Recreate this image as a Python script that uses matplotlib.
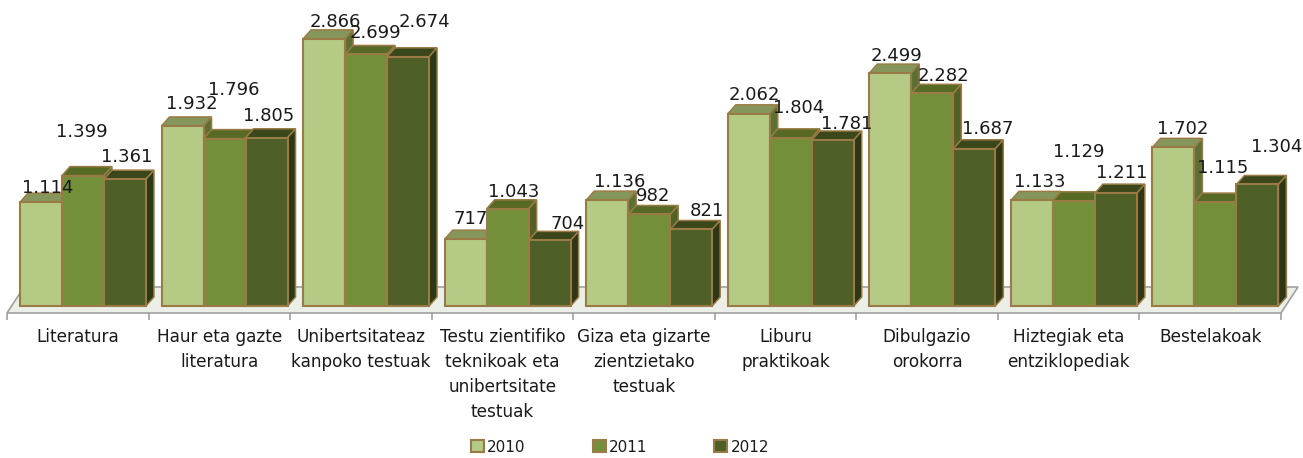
import matplotlib
matplotlib.use('Agg')
import matplotlib.pyplot as plt
from matplotlib.patches import Polygon

W, H = 1303, 458

categories = ['Literatura', 'Haur eta gazte\nliteratura', 'Unibertsitateaz\nkanpoko testuak',
              'Testu zientifiko\nteknikoak eta\nunibertsitate\ntestuak',
              'Giza eta gizarte\nzientzietako\ntestuak', 'Liburu\npraktikoak',
              'Dibulgazio\norokorra', 'Hiztegiak eta\nentziklopediak', 'Bestelakoak']
v2010 = [1114, 1932, 2866, 717, 1136, 2062, 2499, 1133, 1702]
v2011 = [1399, 1796, 2699, 1043, 982, 1804, 2282, 1129, 1115]
v2012 = [1361, 1805, 2674, 704, 821, 1781, 1687, 1211, 1304]
years = ['2010', '2011', '2012']

front = ['#b5cb85', '#748f3a', '#4e5f28']
top = ['#84965c', '#566a26', '#3a471b']
side = ['#5c7035', '#4f6126', '#2c3716']
edge = '#9a7b45'

# where the labels sit in the picture (pixels), they don't follow the bars exactly
label_x = [[48, 82, 127], [192, 234, 269], [335, 375, 424], [471, 514, 568], [620, 653, 707],
           [754, 799, 847], [897, 943, 988], [1040, 1079, 1122], [1183, 1223, 1277]]
label_y = [[188, 132, 157], [104, 90, 116], [22, 33, 22], [219, 192, 224], [182, 196, 211],
           [95, 108, 124], [56, 76, 129], [182, 152, 173], [129, 168, 147]]


def fmt(v):
    return f'{v:,}'.replace(',', '.')


fig = plt.figure(figsize=(W / 100, H / 100), dpi=100)
ax = fig.add_axes([7 / W, 1 - 313 / H, 1274 / W, 313 / H])

PX_X = 1 / 141.6     # category units per pixel
PX_Y = 1 / 0.0932    # value units per pixel
ax.set_xlim(0, 9)
ax.set_ylim(-7 * PX_Y, 306 * PX_Y)

# floor
fl_dx, fl_dy = 17 * PX_X, 26 * PX_Y
y0 = -7 * PX_Y
ax.add_patch(Polygon([(0, y0), (9, y0), (9 + fl_dx, y0 + fl_dy), (fl_dx, y0 + fl_dy)],
                     closed=True, fc='#eceee8', ec='#a0a0a0', lw=1.2, clip_on=False, zorder=1))

bw = 42 * PX_X
start = 13 * PX_X
dx, dy = 8 * PX_X, 9 * PX_Y
series = [v2010, v2011, v2012]

z = 2
for i in range(len(categories)):
    for j, vals in enumerate(series):
        v = vals[i]
        x = i + start + j * bw
        ax.add_patch(Polygon([(x, v), (x + bw, v), (x + bw + dx, v + dy), (x + dx, v + dy)],
                             closed=True, fc=top[j], ec=edge, lw=1.1, clip_on=False, zorder=z))
        ax.add_patch(Polygon([(x + bw, 0), (x + bw + dx, dy), (x + bw + dx, v + dy), (x + bw, v)],
                             closed=True, fc=side[j], ec=edge, lw=1.1, clip_on=False, zorder=z))
        ax.bar(x, v, bw, align='edge', color=front[j], edgecolor=edge, linewidth=1.5, zorder=z + 0.5)
        z += 1
        fig.text(label_x[i][j] / W, 1 - label_y[i][j] / H, fmt(v), fontsize=13, color='#1a1a1a',
                 ha='center', va='center', zorder=100)

ax.patch.set_visible(False)
for s in ['top', 'left', 'right', 'bottom']:
    ax.spines[s].set_visible(False)
ax.set_yticks([])
ax.set_xticks(range(10))
ax.set_xticklabels([])
ax.tick_params(axis='x', which='major', length=5, width=1.2, color='#a0a0a0')
ax.set_xticks([i + 0.5 for i in range(9)], minor=True)
ax.set_xticklabels(categories, minor=True, fontsize=12.2, color='#1a1a1a', linespacing=1.5)
ax.tick_params(axis='x', which='minor', length=0, pad=11)

handles = [plt.Rectangle((0, 0), 1, 1, fc=front[j], ec=edge, lw=1.5) for j in range(3)]
fig.legend(handles, years, loc='center', bbox_to_anchor=(620 / W, 1 - 447 / H), ncol=3, frameon=False,
           fontsize=11, handlelength=0.85, handleheight=0.85, handletextpad=0.2, columnspacing=4.4,
           labelcolor='#1a1a1a')

fig.savefig('out.png', dpi=100, facecolor='white')
